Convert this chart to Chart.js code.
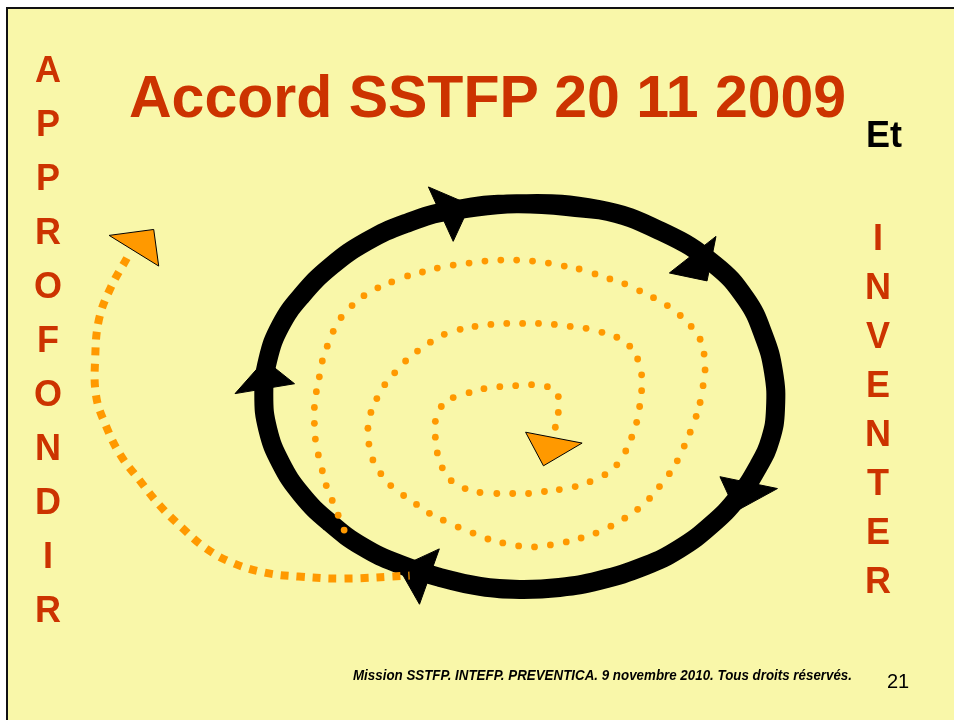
<!DOCTYPE html>
<html lang="fr">
<head>
    <meta charset="UTF-8">
    <title>Accord SSTFP 20 11 2009</title>
    <script src="https://cdn.jsdelivr.net/npm/chart.js"></script>
    <style>
        body {
            margin: 0;
            background: #ffffff;
            width: 954px;
            height: 720px;
            overflow: hidden;
            position: relative;
            font-family: "Liberation Sans", Arial, sans-serif;
        }

        .slide {
            position: absolute;
            left: 6px;
            top: 7px;
            width: 1000px;
            height: 800px;
            background: #f9f7a9;
            border-left: 2px solid #111;
            border-top: 2px solid #111;
        }

        canvas {
            position: absolute;
            left: 0;
            top: 0;
        }

        .title {
            position: absolute;
            left: 129px;
            top: 68px;
            font-size: 59px;
            line-height: 59px;
            font-weight: bold;
            color: #cc3300;
            white-space: nowrap;
        }

        .column {
            position: absolute;
            width: 60px;
            text-align: center;
            font-size: 36px;
            font-weight: bold;
            color: #cc3300;
        }

        .et {
            position: absolute;
            left: 866px;
            top: 117px;
            font-size: 36px;
            line-height: 36px;
            font-weight: bold;
            color: #000;
        }

        .footer {
            position: absolute;
            left: 353px;
            top: 668px;
            font-size: 14px;
            line-height: 14px;
            font-weight: bold;
            font-style: italic;
            white-space: nowrap;
            transform-origin: 0 0;
        }

        .page {
            position: absolute;
            left: 887px;
            top: 671px;
            font-size: 20px;
            line-height: 20px;
        }
    </style>
</head>
<body>
    <div class="slide"></div>
    <canvas id="slideChart" width="954" height="720"></canvas>

    <div class="title" id="title"></div>
    <div class="column" id="leftCol" style="left:18px; top:43px; line-height:54px;"></div>
    <div class="column" id="rightCol" style="left:848px; top:213px; line-height:49px;"></div>
    <div class="et" id="et"></div>
    <div class="footer" id="footer"></div>
    <div class="page" id="page"></div>

    <script>
        // texts
        const titleText = 'Accord SSTFP 20 11 2009';
        const leftLetters = ['A', 'P', 'P', 'R', 'O', 'F', 'O', 'N', 'D', 'I', 'R'];
        const rightLetters = ['I', 'N', 'V', 'E', 'N', 'T', 'E', 'R'];
        const etText = 'Et';
        const footerText = 'Mission SSTFP. INTEFP. PREVENTICA. 9 novembre 2010. Tous droits réservés.';
        const pageNumber = '21';

        // black ring (centre of stroke), read clockwise, start repeated for a smooth join
        const ringPath = [
            [450, 209], [517, 202], [600, 208], [665, 231], [716, 263], [748, 298],
            [766, 335], [776, 372], [778, 410], [773, 440], [761, 467], [740, 499],
            [713, 527], [681, 551], [647, 568], [600, 583], [560, 590], [520, 592],
            [480, 589], [440, 580], [400, 567], [362, 549], [328, 524], [300, 496],
            [279, 464], [266, 430], [262, 395], [266, 360], [279, 325], [300, 295],
            [330, 265], [366, 240], [405, 222], [450, 209], [517, 202], [600, 208]
        ];

        // arrow heads on the ring
        const ringArrows = [
            [[428, 185], [470, 203], [453, 240]],
            [[718, 235], [709, 280], [671, 272]],
            [[722, 478], [780, 490], [738, 513]],
            [[439, 551], [398, 570], [419, 607]],
            [[233, 394], [263, 360], [293, 384]]
        ];

        // dotted spiral, from the centre outwards
        const spiralDots = [
            [556, 428], [559, 413], [559, 397], [548, 387], [532, 385], [516, 386],
            [500, 387], [484, 389], [469, 393], [453, 398], [441, 407], [435, 422],
            [435, 438], [437, 454], [442, 469], [451, 482], [465, 490], [480, 494],
            [497, 495], [513, 495], [529, 495], [545, 493], [560, 491], [576, 488],
            [591, 483], [606, 476], [618, 466], [627, 452], [633, 438], [638, 423],
            [641, 407], [643, 391], [643, 375], [639, 359], [631, 346], [618, 337],
            [603, 332], [587, 328], [571, 326], [555, 324], [539, 323], [523, 323],
            [507, 323], [491, 324], [475, 326], [460, 329], [444, 334], [430, 342],
            [417, 351], [405, 361], [394, 373], [384, 385], [376, 399], [370, 413],
            [367, 429], [368, 445], [372, 461], [380, 475], [390, 487], [403, 497],
            [416, 506], [429, 515], [443, 522], [458, 529], [473, 535], [488, 541],
            [503, 545], [519, 548], [535, 549], [551, 547], [567, 544], [582, 540],
            [597, 535], [612, 528], [626, 520], [639, 511], [651, 500], [661, 488],
            [671, 475], [679, 462], [686, 447], [692, 433], [698, 417], [702, 403],
            [705, 386], [707, 370], [706, 354], [702, 339], [693, 326], [682, 315],
            [669, 305], [655, 297], [641, 290], [626, 283], [611, 278], [596, 273],
            [580, 268], [565, 265], [549, 262], [533, 260], [517, 259], [501, 259],
            [485, 260], [469, 262], [453, 264], [437, 267], [422, 271], [407, 275],
            [391, 281], [377, 287], [363, 295], [351, 305], [340, 317], [332, 331],
            [326, 346], [321, 361], [318, 377], [315, 392], [313, 408], [313, 424],
            [314, 440], [317, 456], [321, 472], [325, 487], [331, 502], [337, 517],
            [343, 532]
        ];

        // dashed return path on the left
        const dashedPath = [
            [124, 257], [108, 286], [96, 318], [92, 357], [93, 397], [103, 427],
            [118, 457], [137, 482], [157, 507], [180, 530], [203, 550], [230, 565],
            [263, 575], [297, 579], [343, 581], [409, 578]
        ];

        // orange triangles
        const orangeHeads = [
            [[106, 234], [151, 228], [156, 265]],
            [[526, 433], [583, 444], [544, 467]]
        ];

        const pts = list => list.map(([x, y]) => ({ x, y }));
        const closed = list => pts(list.concat([list[0]]));

        // text
        document.getElementById('title').textContent = titleText;
        document.getElementById('leftCol').innerHTML = leftLetters.map(l => '<div>' + l + '</div>').join('');
        document.getElementById('rightCol').innerHTML = rightLetters.map(l => '<div>' + l + '</div>').join('');
        document.getElementById('et').textContent = etText;
        document.getElementById('page').textContent = pageNumber;
        const footer = document.getElementById('footer');
        footer.textContent = footerText;
        footer.style.transform = 'scaleX(' + (499 / footer.getBoundingClientRect().width) + ')';

        // chart
        const datasets = [];

        datasets.push({
            type: 'line',
            data: pts(ringPath),
            borderColor: '#000000',
            borderWidth: 19,
            borderJoinStyle: 'round',
            tension: 0.45,
            pointRadius: 0,
            fill: false,
            order: 6
        });

        ringArrows.forEach(tri => {
            datasets.push({
                type: 'line',
                data: closed(tri),
                borderColor: '#000000',
                backgroundColor: '#000000',
                borderWidth: 1,
                tension: 0,
                pointRadius: 0,
                fill: 'shape',
                order: 5
            });
        });

        datasets.push({
            type: 'line',
            data: pts(dashedPath),
            borderColor: '#ff9900',
            borderWidth: 8,
            borderDash: [8, 8],
            borderCapStyle: 'butt',
            tension: 0.4,
            pointRadius: 0,
            fill: false,
            order: 3
        });

        datasets.push({
            type: 'scatter',
            data: pts(spiralDots),
            showLine: false,
            pointRadius: 3.4,
            pointBorderWidth: 0,
            pointBackgroundColor: '#ff9900',
            order: 2
        });

        orangeHeads.forEach(tri => {
            datasets.push({
                type: 'line',
                data: closed(tri),
                borderColor: '#000000',
                backgroundColor: '#ff9900',
                borderWidth: 1,
                tension: 0,
                pointRadius: 0,
                fill: 'shape',
                order: 1
            });
        });

        new Chart(document.getElementById('slideChart').getContext('2d'), {
            type: 'scatter',
            data: { datasets: datasets },
            options: {
                responsive: false,
                animation: false,
                events: [],
                layout: { padding: 0 },
                plugins: {
                    legend: { display: false },
                    tooltip: { enabled: false }
                },
                scales: {
                    x: { type: 'linear', min: 0, max: 954, display: false },
                    y: { type: 'linear', min: 0, max: 720, reverse: true, display: false }
                }
            }
        });
    </script>
</body>
</html>
